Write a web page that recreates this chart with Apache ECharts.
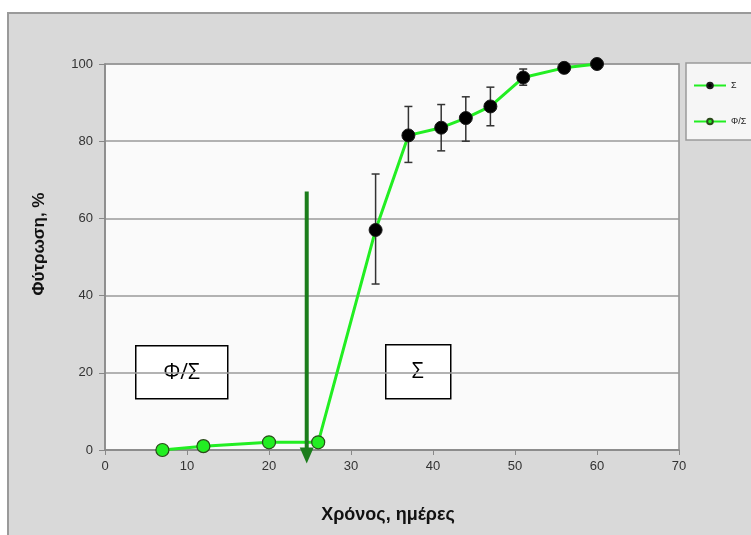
<!DOCTYPE html>
<html>
<head>
<meta charset="utf-8">
<script src="https://cdn.jsdelivr.net/npm/echarts@6/dist/echarts.min.js"></script>
<style>
  html, body { margin: 0; padding: 0; background: #ffffff; }
  #chart { width: 751px; height: 535px; }
</style>
</head>
<body>
<div id="chart"></div>
<script>
// Germination over time: dormant phase (Φ/Σ) and germinating phase (Σ)
const phiDays = [7, 12, 20, 26];
const phiVals = [0, 1, 2, 2];

const sDays = [33, 37, 41, 44, 47, 51, 56, 60];
const sVals = [57, 81.5, 83.5, 86, 89, 96.5, 99, 100];
const sLow  = [43, 74.5, 77.5, 80, 84, 94.5, null, null];
const sHigh = [71.5, 89, 89.5, 91.5, 94, 98.7, null, null];

const xTicks = [0, 10, 20, 30, 40, 50, 60, 70];
const yTicks = [0, 20, 40, 60, 80, 100];

const xTitle = 'Χρόνος, ημέρες';
const yTitle = 'Φύτρωση, %';

// Vertical arrow marking the switch between the two phases
const arrowX = 24.6;
const arrowTop = 67;
const arrowBottom = -3.5;

const GREEN = '#22ee22';
const chart = echarts.init(document.getElementById('chart'));

// The Σ line starts at the last Φ/Σ point so the curve stays continuous
const sData = [{ value: [phiDays[phiDays.length - 1], phiVals[phiVals.length - 1]], symbol: 'none' }]
  .concat(sDays.map((d, i) => [d, sVals[i]]));
const phiData = phiDays.map((d, i) => [d, phiVals[i]]);
const errData = sDays.map((d, i) => [d, sLow[i], sHigh[i]]).filter(r => r[1] != null);

const option = {
  animation: false,
  graphic: [
    { type: 'rect', z: -10, shape: { x: 8, y: 13, width: 760, height: 540 },
      style: { fill: '#d9d9d9', stroke: '#9a9a9a', lineWidth: 2 } },
    { type: 'rect', z: -9, shape: { x: 686, y: 63, width: 80, height: 77 },
      style: { fill: '#f6f6f6', stroke: '#9a9a9a', lineWidth: 1.5 } },
    { type: 'text', z: 5, x: 388, y: 515,
      style: { text: xTitle, align: 'center', verticalAlign: 'middle',
        font: 'bold 18px "Liberation Sans", Arial, sans-serif', fill: '#111' } },
    { type: 'text', z: 5, x: 39, y: 244, rotation: Math.PI / 2,
      style: { text: yTitle, align: 'center', verticalAlign: 'middle',
        font: 'bold 17px "Liberation Sans", Arial, sans-serif', fill: '#111' } },
    { type: 'group', left: 135, top: 345, z: 50, children: [
      { type: 'rect', shape: { x: 0, y: 0, width: 92, height: 53 },
        style: { fill: '#ffffff', stroke: '#000000', lineWidth: 1.5 } },
      { type: 'text', style: { text: 'Φ/Σ', x: 46, y: 27, align: 'center', verticalAlign: 'middle',
        font: '21px "Open Sans", sans-serif', fill: '#000' } }
    ]},
    { type: 'group', left: 385, top: 344, z: 50, children: [
      { type: 'rect', shape: { x: 0, y: 0, width: 65, height: 54 },
        style: { fill: '#ffffff', stroke: '#000000', lineWidth: 1.5 } },
      { type: 'text', style: { text: 'Σ', x: 32, y: 27, align: 'center', verticalAlign: 'middle',
        font: '21px "Open Sans", sans-serif', fill: '#000' } }
    ]}
  ],
  legend: {
    orient: 'vertical', left: 688, top: 76, itemGap: 27, itemWidth: 32, itemHeight: 7,
    data: ['Σ', 'Φ/Σ'],
    textStyle: { fontSize: 9, color: '#222', fontFamily: 'Arial' }
  },
  grid: { left: 105, top: 64, right: 72, bottom: 85, show: true,
    backgroundColor: '#fafafa', borderColor: '#8f8f8f', borderWidth: 1.5 },
  xAxis: {
    type: 'value', min: 0, max: 70, interval: 10,
    axisLine: { show: true, lineStyle: { color: '#888', width: 1.5 } },
    axisTick: { show: true, length: 5, lineStyle: { color: '#888' } },
    axisLabel: { fontSize: 13, color: '#333', margin: 10, fontFamily: 'Arial',
      formatter: v => xTicks.includes(v) ? String(v) : '' },
    splitLine: { show: false }
  },
  yAxis: {
    type: 'value', min: 0, max: 100, interval: 20,
    axisLine: { show: true, lineStyle: { color: '#888', width: 1.5 } },
    axisTick: { show: true, length: 6, lineStyle: { color: '#888' } },
    axisLabel: { fontSize: 13, color: '#333', margin: 12, fontFamily: 'Arial',
      formatter: v => yTicks.includes(v) ? String(v) : '' },
    splitLine: { show: true, lineStyle: { color: '#9a9a9a', width: 1.5 } }
  },
  series: [
    {
      name: 'Σ', type: 'line', data: sData, z: 3,
      lineStyle: { color: GREEN, width: 3 },
      symbol: 'circle', symbolSize: 13,
      itemStyle: { color: '#000', borderColor: '#1a1a1a', borderWidth: 1 }
    },
    {
      name: 'Φ/Σ', type: 'line', data: phiData, z: 4,
      lineStyle: { color: GREEN, width: 3 },
      symbol: 'circle', symbolSize: 13,
      itemStyle: { color: GREEN, borderColor: '#2a4a1a', borderWidth: 1.2 }
    },
    {
      name: 'err', type: 'custom', z: 2, data: errData,
      renderItem: (params, api) => {
        const x = api.value(0);
        const lo = api.coord([x, api.value(1)]);
        const hi = api.coord([x, api.value(2)]);
        const c = 4;
        const st = { stroke: '#333', lineWidth: 1.5 };
        return { type: 'group', children: [
          { type: 'line', shape: { x1: lo[0], y1: lo[1], x2: hi[0], y2: hi[1] }, style: st },
          { type: 'line', shape: { x1: lo[0] - c, y1: lo[1], x2: lo[0] + c, y2: lo[1] }, style: st },
          { type: 'line', shape: { x1: hi[0] - c, y1: hi[1], x2: hi[0] + c, y2: hi[1] }, style: st }
        ]};
      }
    },
    {
      name: 'arrow', type: 'custom', z: 6, clip: false,
      data: [[arrowX, arrowTop, arrowBottom]],
      renderItem: (params, api) => {
        const top = api.coord([api.value(0), api.value(1)]);
        const tip = api.coord([api.value(0), api.value(2)]);
        const hw = 7, hh = 16;
        const col = '#1b7d1b';
        return { type: 'group', children: [
          { type: 'line', shape: { x1: top[0], y1: top[1], x2: tip[0], y2: tip[1] - hh + 2 },
            style: { stroke: col, lineWidth: 4 } },
          { type: 'polygon', shape: { points: [[tip[0] - hw, tip[1] - hh], [tip[0] + hw, tip[1] - hh], [tip[0], tip[1]]] },
            style: { fill: col } }
        ]};
      }
    }
  ]
};
chart.setOption(option);
</script>
</body>
</html>
